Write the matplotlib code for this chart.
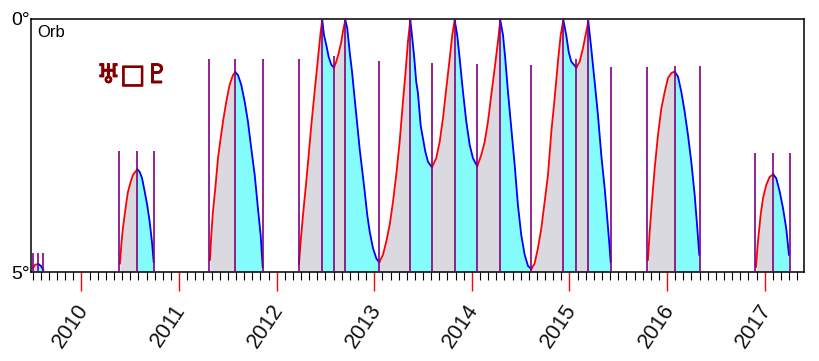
import numpy as np
import matplotlib
matplotlib.use("Agg")
import matplotlib.pyplot as plt
import matplotlib.patheffects as pe
from matplotlib.transforms import offset_copy

plt.rcParams['font.family'] = ['Liberation Sans', 'DejaVu Sans']

# *
# Orb of each pass (decimal year, orb in degrees)
# *
pass1_years = [2009.503, 2009.524, 2009.557, 2009.585, 2009.609]
pass1_orbs  = [4.92, 4.86, 4.84, 4.88, 4.96]

pass2_years = [2010.394, 2010.408, 2010.425, 2010.443, 2010.459, 2010.476, 2010.504, 2010.528,
               2010.572, 2010.596, 2010.620, 2010.648, 2010.674, 2010.699, 2010.722, 2010.740]
pass2_orbs  = [4.83, 4.47, 4.13, 3.87, 3.64, 3.42, 3.22, 3.08,
               2.97, 3.02, 3.14, 3.41, 3.68, 4.01, 4.40, 4.80]

pass3_years = [2011.317, 2011.330, 2011.347, 2011.371, 2011.399, 2011.426, 2011.450, 2011.484,
               2011.518, 2011.552, 2011.576, 2011.604, 2011.637, 2011.672, 2011.706, 2011.740,
               2011.775, 2011.808, 2011.836, 2011.857]
pass3_orbs  = [4.76, 4.27, 3.81, 3.35, 2.75, 2.36, 2.03, 1.63,
               1.30, 1.11, 1.05, 1.11, 1.30, 1.63, 2.03, 2.56,
               3.08, 3.74, 4.27, 4.90]

pass4_years = [2012.229, 2012.246, 2012.270, 2012.303, 2012.328, 2012.355, 2012.382, 2012.406,
               2012.430, 2012.451, 2012.467, 2012.485, 2012.508, 2012.533, 2012.559, 2012.587,
               2012.611, 2012.635, 2012.662, 2012.679, 2012.703, 2012.723, 2012.748, 2012.772,
               2012.799, 2012.823, 2012.850, 2012.874, 2012.902, 2012.928, 2012.953, 2012.987,
               2013.021, 2013.051, 2013.089, 2013.123, 2013.158, 2013.192, 2013.225, 2013.260,
               2013.294, 2013.318, 2013.345, 2013.369, 2013.386, 2013.407, 2013.430, 2013.448,
               2013.475, 2013.499, 2013.523, 2013.550, 2013.591, 2013.635, 2013.670, 2013.704,
               2013.738, 2013.773, 2013.799, 2013.824, 2013.850, 2013.875, 2013.909, 2013.943,
               2013.978, 2014.011, 2014.055, 2014.096, 2014.131, 2014.165, 2014.199, 2014.234,
               2014.267, 2014.291, 2014.319, 2014.342, 2014.370, 2014.404, 2014.439, 2014.472,
               2014.506, 2014.541, 2014.575, 2014.609, 2014.643, 2014.677, 2014.711, 2014.746,
               2014.780, 2014.814, 2014.848, 2014.882, 2014.910, 2014.937, 2014.967, 2014.992,
               2015.018, 2015.070, 2015.105, 2015.138, 2015.172, 2015.193, 2015.223, 2015.258,
               2015.292, 2015.326, 2015.361, 2015.387, 2015.412, 2015.422]
pass4_orbs  = [4.83, 4.40, 3.87, 3.22, 2.69, 2.10, 1.57, 1.11,
               0.65, 0.25, 0.02, 0.32, 0.51, 0.75, 0.90, 0.96,
               0.84, 0.68, 0.45, 0.25, 0.02, 0.18, 0.65, 1.04,
               1.57, 2.03, 2.56, 2.95, 3.41, 3.87, 4.20, 4.53,
               4.73, 4.81, 4.66, 4.40, 4.07, 3.61, 3.08, 2.43,
               1.63, 1.11, 0.45, 0.02, 0.32, 0.71, 1.24, 1.47,
               2.10, 2.36, 2.62, 2.82, 2.93, 2.75, 2.43, 1.96,
               1.37, 0.78, 0.32, 0.02, 0.32, 0.78, 1.44, 2.03,
               2.49, 2.75, 2.91, 2.69, 2.43, 2.03, 1.50, 0.97,
               0.45, 0.02, 0.32, 0.78, 1.44, 2.16, 2.89, 3.68,
               4.27, 4.66, 4.88, 4.94, 4.83, 4.53, 4.14, 3.61,
               3.08, 2.23, 1.57, 0.84, 0.32, 0.02, 0.32, 0.65,
               0.84, 0.96, 0.84, 0.58, 0.25, 0.05, 0.58, 1.24,
               1.90, 2.69, 3.35, 3.94, 4.53, 4.80]

pass5_years = [2015.804, 2015.822, 2015.845, 2015.873, 2015.907, 2015.941, 2015.976, 2016.009,
               2016.043, 2016.078, 2016.112, 2016.146, 2016.180, 2016.214, 2016.248, 2016.283,
               2016.310, 2016.330]
pass5_orbs  = [4.76, 4.20, 3.61, 2.95, 2.29, 1.77, 1.44, 1.17,
               1.07, 1.04, 1.14, 1.44, 1.83, 2.29, 2.82, 3.48,
               4.14, 4.66]

pass6_years = [2016.911, 2016.931, 2016.959, 2016.983, 2017.016, 2017.051, 2017.088, 2017.119,
               2017.154, 2017.188, 2017.221, 2017.249]
pass6_orbs  = [4.90, 4.40, 3.87, 3.54, 3.28, 3.12, 3.07, 3.15,
               3.41, 3.74, 4.14, 4.66]

# start / exact / turning / end markers and the orb each marker reaches up to
event_years = [2009.503, 2009.557, 2009.609,
               2010.387, 2010.572, 2010.746,
               2011.309, 2011.576, 2011.863,
               2012.225, 2012.467, 2012.587, 2012.703, 2013.051, 2013.369, 2013.591,
               2013.824, 2014.055, 2014.291, 2014.609, 2014.937, 2015.070, 2015.193, 2015.428,
               2015.797, 2016.078, 2016.340,
               2016.904, 2017.088, 2017.262]
event_tops  = [4.62, 4.62, 4.62,
               2.61, 2.61, 2.61,
               0.79, 0.79, 0.79,
               0.79, 0.0, 0.73, 0.0, 0.84, 0.0, 0.86,
               0.0, 0.88, 0.0, 0.90, 0.0, 0.79, 0.0, 0.94,
               0.94, 0.92, 0.93,
               2.65, 2.65, 2.65]

year_ticks  = [2010, 2011, 2012, 2013, 2014, 2015, 2016, 2017]
year_labels = ['2010', '2011', '2012', '2013', '2014', '2015', '2016', '2017']

passes = [(pass1_years, pass1_orbs), (pass2_years, pass2_orbs), (pass3_years, pass3_orbs),
          (pass4_years, pass4_orbs), (pass5_years, pass5_orbs), (pass6_years, pass6_orbs)]

fig = plt.figure(figsize=(8.2, 3.61), dpi=100)
ax = fig.add_axes([0.0384, 0.2465, 0.9421, 0.7009])

ev = np.array(event_years)

# *
# Curve and fill, split at the markers: applying = red / grey, separating = blue / cyan
# *
for yrs, orbs in passes:
    yrs = np.array(yrs)
    orbs = np.array(orbs)
    inner = ev[(ev > yrs[0] + 0.004) & (ev < yrs[-1] - 0.004)]
    cuts = [0] + [int(np.argmin(abs(yrs - e))) for e in inner] + [len(yrs) - 1]
    for a, b in zip(cuts[:-1], cuts[1:]):
        xs = yrs[a:b + 1]
        os_ = orbs[a:b + 1]
        applying = os_[-1] < os_[0]
        fill_col = '#d9d9df' if applying else '#84fcfc'
        line_col = '#ff0000' if applying else '#0000ff'
        ax.fill_between(xs, os_, 5, color=fill_col, lw=0, zorder=1)
        ax.plot(xs, os_, color=line_col, lw=1.3, zorder=2)

ax.vlines(event_years, event_tops, 5, color='#800080', lw=1.2, zorder=3)

ax.set_xlim(2009.488, 2017.403)
ax.set_ylim(5, 0)

for s in ax.spines.values():
    s.set_linewidth(1.1)
    s.set_color('black')

# x axis: monthly ticks, red year ticks, rotated year labels
ax.set_xticks(year_ticks)
ax.set_xticklabels([])
ax.set_xticks(np.arange(2009.5, 2017.41, 1 / 12), minor=True)
ax.tick_params(axis='x', which='major', length=13.7, width=1.0, color='#ff0000', direction='out')
ax.tick_params(axis='x', which='minor', length=5.8, width=0.8, color='black', direction='out')
lab_tr = offset_copy(ax.get_xaxis_transform(), fig=fig, x=-7.7, y=-38.9, units='points')
for yr, lab in zip(year_ticks, year_labels):
    ax.text(yr, 0, lab, transform=lab_tr, rotation=56, ha='center', va='center',
            fontsize=15.5, color='#111111')

# y axis: only 0 and 5 degrees
ax.set_yticks([0, 5])
ax.set_yticklabels(['0°', '5°'], fontsize=14)
ax.tick_params(axis='y', which='major', length=0, pad=1.5)
ax.set_yticks([5], minor=True)
ax.tick_params(axis='y', which='minor', length=4.3, width=1.0)

ax.text(0.008, 0.976, 'Orb', transform=ax.transAxes, ha='left', va='top', fontsize=12)
ax.text(0.131, 0.775, '♅□♇', transform=ax.transAxes, ha='center', va='center',
        fontsize=19, fontweight='bold', color='#800000', family=['DejaVu Sans'],
        path_effects=[pe.withStroke(linewidth=0.8, foreground='#800000')])

fig.savefig('out.png', dpi=100)
